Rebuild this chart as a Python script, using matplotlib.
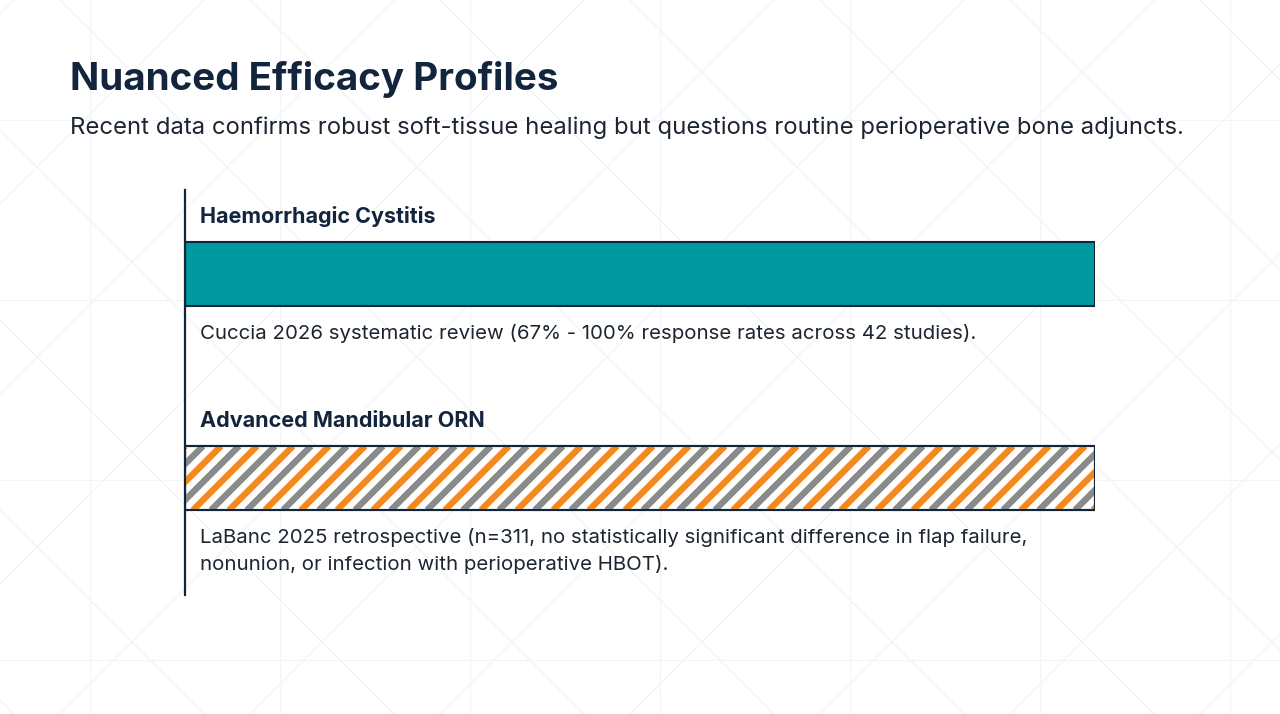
import matplotlib

matplotlib.use("Agg")
import matplotlib.pyplot as plt
import numpy as np
from matplotlib.patches import Rectangle

plt.rcParams["font.family"] = ["Inter", "DejaVu Sans"]

# chart content
title = "Nuanced Efficacy Profiles"
subtitle = ("Recent data confirms robust soft-tissue healing but questions "
            "routine perioperative bone adjuncts.")
categories = ["Haemorrhagic Cystitis", "Advanced Mandibular ORN"]
values = [100, 100]
notes = [
    "Cuccia 2026 systematic review (67% - 100% response rates across 42 studies).",
    "LaBanc 2025 retrospective (n=311, no statistically significant difference in flap failure,\n"
    "nonunion, or infection with perioperative HBOT).",
]

NAVY = "#13243d"
TEAL = "#00999f"
ORANGE = "#f0891f"
GREY = "#8a8a8a"
TEXT = "#1c2530"

fig = plt.figure(figsize=(12.8, 7.14), dpi=100)
fig.patch.set_facecolor("white")

# faint background geometry
bg = fig.add_axes([0, 0, 1, 1], zorder=-5)
bg.set_xlim(0, 1280)
bg.set_ylim(714, 0)
bg.axis("off")
for x0 in range(-700, 1400, 190):
    bg.plot([x0, x0 + 714], [0, 714], color="#f0f1f3", lw=0.8)
    bg.plot([x0 + 714, x0], [0, 714], color="#f2f3f5", lw=0.8)
for xv in range(90, 1280, 190):
    bg.plot([xv, xv], [0, 714], color="#f3f4f6", lw=0.8)
for yh in range(120, 714, 180):
    bg.plot([0, 1280], [yh, yh], color="#f3f4f6", lw=0.8)

fig.text(70 / 1280, 1 - 80 / 714, title, fontsize=27.8, fontweight="bold",
         color=NAVY, va="center", ha="left")
fig.text(70 / 1280, 1 - 128 / 714, subtitle, fontsize=17.2, color=TEXT,
         va="center", ha="left")

ax = fig.add_axes([185 / 1280, 1 - 595 / 714, 910 / 1280, 405 / 714])
ax.set_facecolor("none")
ax.set_xlim(0, 100)
ax.set_ylim(1.573, -0.412)
for s in ["top", "right", "bottom"]:
    ax.spines[s].set_visible(False)
ax.spines["left"].set_color(NAVY)
ax.spines["left"].set_linewidth(1.6)
ax.set_xticks([])
ax.set_yticks([])

bar_h = 0.314
y = np.arange(len(categories))
bars = ax.barh(y, values, height=bar_h, color=[TEAL, "white"],
               edgecolor=NAVY, linewidth=1.5, zorder=2)

# alternating orange / grey diagonal stripes clipped to the second bar
b = bars[1]
clip = Rectangle((b.get_x(), b.get_y()), b.get_width(), b.get_height(),
                 transform=ax.transData, facecolor="none", edgecolor="none")
ax.add_patch(clip)
x0d, y0d = b.get_x(), b.get_y()
x1d, y1d = x0d + b.get_width(), y0d + b.get_height()
# convert a 45 degree slope in pixels to data units
px = ax.transData.transform([[0, 0], [1, 1]])
sx = abs(px[1, 0] - px[0, 0])
sy = abs(px[1, 1] - px[0, 1])
h_px = b.get_height() * sy
step = 18 / sx
k = 0
xs = x0d - h_px / sx
while xs < x1d + step:
    col = ORANGE if k % 2 == 0 else GREY
    line, = ax.plot([xs, xs + h_px / sx], [y1d, y0d], color=col, lw=4.6,
                    solid_capstyle="butt", zorder=3)
    line.set_clip_path(clip)
    xs += step
    k += 1
ax.barh(y[1], values[1], height=bar_h, color="none", edgecolor=NAVY,
        linewidth=1.5, zorder=4)

for i, (cat, note) in enumerate(zip(categories, notes)):
    ax.text(1.65, i - 0.28, cat, fontsize=15.5, fontweight="bold", color=NAVY,
            va="center", ha="left")
    ax.text(1.65, i + 0.245, note, fontsize=14.7, color=TEXT, va="top",
            ha="left", linespacing=1.55)

fig.savefig("out.png", dpi=100, facecolor="white")
